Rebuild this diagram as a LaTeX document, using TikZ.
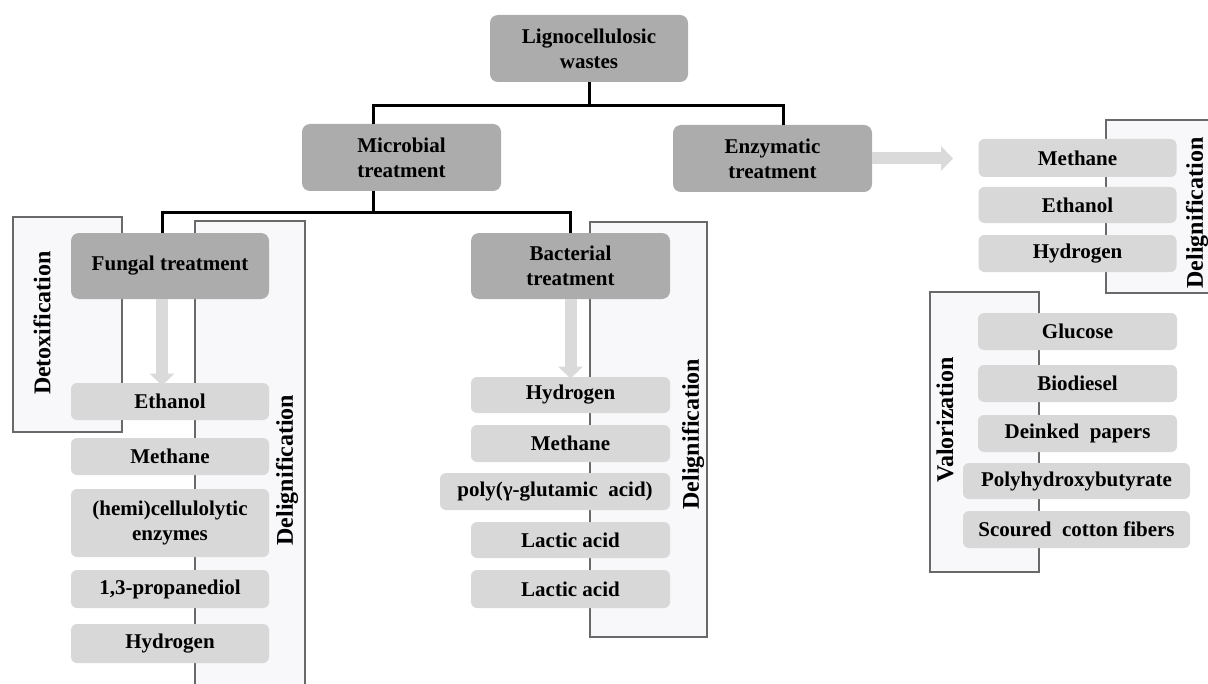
\documentclass[tikz,border=0pt]{standalone}
\usepackage{fontspec}
\setmainfont{Liberation Serif}
\usetikzlibrary{calc,arrows.meta}
\definecolor{mainGray}{RGB}{172,172,172}
\definecolor{prodGray}{RGB}{216,216,216}
\definecolor{labFill}{RGB}{248,248,251}
\definecolor{labDraw}{RGB}{105,105,105}
\definecolor{arrGray}{RGB}{218,218,218}
\tikzset{
  mainbox/.style={fill=mainGray, rounded corners=4pt, inner sep=0pt, align=center,
    font=\bfseries\fontsize{10.5}{12.5}\selectfont},
  prodbox/.style={fill=prodGray, rounded corners=3pt, inner sep=0pt, align=center,
    font=\bfseries\fontsize{10.5}{12.5}\selectfont},
  labbox/.style={fill=labFill, draw=labDraw, line width=0.6pt},
  labtext/.style={rotate=90, inner sep=0pt, font=\bfseries\fontsize{12}{14}\selectfont},
  conn/.style={draw=black, line width=1.5pt},
  blockarrow/.style={draw=arrGray, line width=6pt,
    -{Triangle[width=12pt,length=6pt,fill=arrGray,color=arrGray]}},
}
\newcommand{\bx}[6]{\node[#1, minimum width=#4*0.5pt, minimum height=#5*0.5pt] (#6) at (#2,#3)}
\begin{document}
\begin{tikzpicture}[x=0.5pt,y=-0.5pt]
\useasboundingbox (0,0) rectangle (1208,684);
\fill[white] (0,0) rectangle (1208,684);
% label boxes (background)
\draw[labbox] (13,217) rectangle (122,432);
\node[labtext] (ldetox) at (42,323) {Detoxification};
\draw[labbox] (195,221) rectangle (305,700);
\node[labtext] (ldelf) at (287,470) {Delignification};
\draw[labbox] (590,222) rectangle (707,637);
\node[labtext] (ldelb) at (693,434) {Delignification};
\draw[labbox] (1106,120) rectangle (1220,293);
\node[labtext] (ldele) at (1197,213) {Delignification};
\draw[labbox] (930,292) rectangle (1039,572);
\node[labtext] (lvalo) at (945,420) {Valorization};
% main boxes
\bx{mainbox}{589}{48.5}{198}{67}{lig} {Lignocellulosic\\wastes};
\bx{mainbox}{401.5}{157.5}{199}{67}{mic} {Microbial\\treatment};
\bx{mainbox}{772.5}{158.5}{199}{67}{enz} {Enzymatic\\treatment};
\bx{mainbox}{170}{266}{198}{66}{fung} {Fungal treatment};
\bx{mainbox}{570.5}{266}{199}{66}{bact} {Bacterial\\treatment};
% connectors
\draw[conn] (lig.south) -- ++(0,23) coordinate (t1);
\draw[conn] (t1) -| ($(mic.north west)!.36!(mic.north east)$);
\draw[conn] (t1) -| ($(enz.north west)!.553!(enz.north east)$);
\draw[conn] ($(mic.south west)!.36!(mic.south east)$) -- ++(0,21) coordinate (t2);
\draw[conn] (t2) -| ($(fung.north west)!.46!(fung.north east)$);
\draw[conn] (t2) -| (bact.north);
% fungal products
\bx{prodbox}{170}{401.5}{198}{37}{eth1} {Ethanol};
\bx{prodbox}{170}{456.5}{198}{37}{met1} {Methane};
\bx{prodbox}{170}{523}{198}{68}{hemi} {(hemi)cellulolytic\\enzymes};
\bx{prodbox}{170}{589}{198}{38}{prop} {1,3-propanediol};
\bx{prodbox}{170}{643.5}{198}{39}{hyd1} {Hydrogen};
% bacterial products
\bx{prodbox}{570.5}{395}{199}{36}{hyd2} {Hydrogen};
\bx{prodbox}{570.5}{443.5}{199}{37}{met2} {Methane};
\bx{prodbox}{555}{491.5}{230}{37}{poly} {poly(\char"03B3-glutamic\ \ acid)};
\bx{prodbox}{570.5}{540}{199}{36}{lac1} {Lactic acid};
\bx{prodbox}{570.5}{589}{199}{38}{lac2} {Lactic acid};
% enzymatic products
\bx{prodbox}{1077.5}{158}{198}{38}{met3} {Methane};
\bx{prodbox}{1077.5}{205}{198}{36}{eth3} {Ethanol};
\bx{prodbox}{1077.5}{253.5}{198}{37}{hyd3} {Hydrogen};
% valorization products
\bx{prodbox}{1077.5}{331.5}{199}{37}{glu} {Glucose};
\bx{prodbox}{1077.5}{383.5}{199}{37}{bio} {Biodiesel};
\bx{prodbox}{1077.5}{433.5}{199}{37}{dei} {Deinked\ \ papers};
\bx{prodbox}{1076.5}{481}{227}{36}{phb} {Polyhydroxybutyrate};
\bx{prodbox}{1076.5}{529.5}{227}{37}{sco} {Scoured\ \ cotton\ fibers};
% block arrows
\draw[blockarrow] ($(fung.south west)!.46!(fung.south east)$) -- ([yshift=-1.5pt]$(eth1.north west)!.46!(eth1.north east)$);
\draw[blockarrow] (bact.south) -- ([yshift=-1pt]hyd2.north);
\coordinate (etip) at (953,158.5);
\draw[blockarrow] (enz.east) -- (etip);
\end{tikzpicture}
\end{document}
